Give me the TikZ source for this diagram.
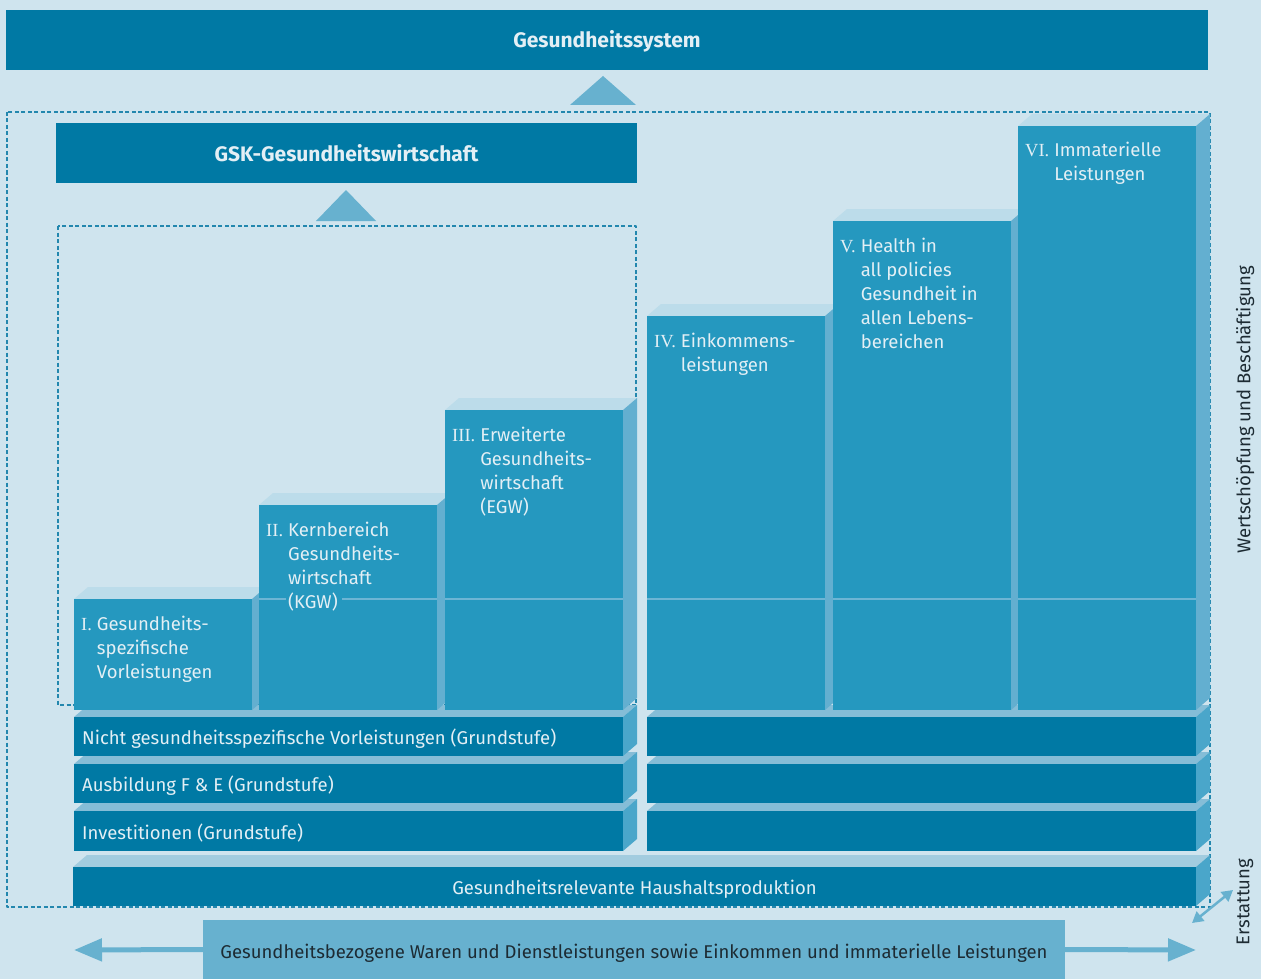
\documentclass[tikz,border=0pt]{standalone}
\usepackage{fontspec}
\setmainfont{Fira Sans}
\newfontfamily\numfont{Liberation Serif}
\usetikzlibrary{arrows.meta,positioning}
\definecolor{bgblue}{HTML}{CFE4EE}
\definecolor{darkblue}{HTML}{0079A4}
\definecolor{colblue}{HTML}{2598BF}
\definecolor{coltop}{HTML}{BCDCEA}
\definecolor{colside}{HTML}{63AFD0}
\definecolor{bartop}{HTML}{85BDD7}
\definecolor{barside}{HTML}{4AA6CA}
\definecolor{hhtop}{HTML}{A2CCDF}
\definecolor{triblue}{HTML}{67B1CF}
\definecolor{lineblue}{HTML}{6DB5D4}
\definecolor{dashblue}{HTML}{2387AE}
\definecolor{lighttext}{HTML}{E3EFF5}
\definecolor{darktext}{HTML}{1D2B33}
% name, x, y, width, height, front, top, side
\newcommand{\slab}[8]{%
  \fill[#7] (#2,#3) -- ++(14,-12) -- ++(#4,0) -- ++(-14,12) -- cycle;
  \fill[#8] (#2+#4,#3) -- ++(14,-12) -- ++(0,#5) -- ++(-14,12) -- cycle;
  \node[front,fill=#6,minimum width=#4,minimum height=#5] (#1) at (#2,#3) {};}
\newcommand{\colnum}[2]{{\numfont #1}\hspace{5pt}\begin{tabular}[t]{@{}l@{}}#2\end{tabular}}
\begin{document}
\begin{tikzpicture}[x=1pt,y=-1pt,line join=round,
    front/.style={anchor=north west,inner sep=0pt,outer sep=0pt},
    dashbox/.style={draw=dashblue,line width=1.4pt,dash pattern=on 4pt off 2.5pt},
    coltext/.style={anchor=north west,inner sep=0pt,text=lighttext,font=\fontsize{18.5}{24}\selectfont},
    bartext/.style={anchor=base west,inner sep=0pt,text=lighttext,font=\fontsize{18.5}{24}\selectfont},
    headtext/.style={anchor=base,text=lighttext,font=\bfseries\fontsize{21}{24}\selectfont},
    sidetext/.style={text=darktext,rotate=90,font=\fontsize{18.5}{24}\selectfont},
    bigarrow/.style={draw=triblue,line width=5pt,-{Triangle[length=28pt,width=22pt]}},
    midline/.style={draw=lineblue,line width=2pt}]
  \fill[bgblue] (0,0) rectangle (1261,979);
  \useasboundingbox (0,0) rectangle (1261,979);
  \node[front,fill=darkblue,minimum width=1202,minimum height=60] (sys) at (6,10) {};
  \node[headtext] at ([yshift=-8]sys.center) {Gesundheitssystem};
  \fill[triblue] (603,76) -- (636,105) -- (570,105) -- cycle;
  \draw[dashbox] (7,112) rectangle (1210,907);
  \node[front,fill=darkblue,minimum width=581,minimum height=60] (gsk) at (56,123) {};
  \node[headtext] at ([yshift=-8]gsk.center) {GSK-Gesundheitswirtschaft};
  \fill[triblue] (346,190) -- (376,221) -- (316,221) -- cycle;
  \draw[dashbox] (58,226) rectangle (636,705);
  \slab{hh}{73}{867}{1123}{39}{darkblue}{hhtop}{barside}
  \foreach \nm/\y/\h in {3/811/40,2/764/39,1/717/39}{
    \slab{b\nm l}{74}{\y}{549}{\h}{darkblue}{bartop}{barside}
    \slab{b\nm r}{647}{\y}{549}{\h}{darkblue}{bartop}{barside}
  }
  \foreach \nm/\x/\y in {1/74/599,2/259/505,3/445/410,4/647/316,5/833/221,6/1018/126}{
    \slab{c\nm}{\x}{\y}{178}{710-\y}{colblue}{coltop}{colside}
  }
  \draw[midline] (c2.west |- c1.north) -- (286,599) (342,599) -- (c2.east |- c1.north);
  \foreach \nm in {3,...,6}
    \draw[midline] (c\nm.west |- c1.north) -- (c\nm.east |- c1.north);
  \node[coltext] at ([shift={(7,14)}]c1.north west) {\colnum{I.}{Gesundheits-\\spezifische\\Vorleistungen}};
  \node[coltext] at ([shift={(7,14)}]c2.north west) {\colnum{II.}{Kernbereich\\Gesundheits-\\wirtschaft\\(KGW)}};
  \node[coltext] at ([shift={(7,14)}]c3.north west) {\colnum{III.}{Erweiterte\\Gesundheits-\\wirtschaft\\(EGW)}};
  \node[coltext] at ([shift={(7,14)}]c4.north west) {\colnum{IV.}{Einkommens-\\leistungen}};
  \node[coltext] at ([shift={(7,14)}]c5.north west) {\colnum{V.}{Health in\\all policies\\Gesundheit in\\allen Lebens-\\bereichen}};
  \node[coltext] at ([shift={(7,14)}]c6.north west) {\colnum{VI.}{Immaterielle\\Leistungen}};
  \node[bartext] at ([shift={(8,8)}]b1l.west) {Nicht gesundheitsspezifische Vorleistungen (Grundstufe)};
  \node[bartext] at ([shift={(8,8)}]b2l.west) {Ausbildung F \& E (Grundstufe)};
  \node[bartext] at ([shift={(8,8)}]b3l.west) {Investitionen (Grundstufe)};
  \node[bartext,anchor=base] at ([yshift=-8]hh.center) {Gesundheitsrelevante Haushaltsproduktion};
  \node[front,fill=triblue,minimum width=862,minimum height=59] (goods) at (203,920) {};
  \node[anchor=base,text=darktext,font=\fontsize{18.5}{24}\selectfont] at ([yshift=-9]goods.center)
    {Gesundheitsbezogene Waren und Dienstleistungen sowie Einkommen und immaterielle Leistungen};
  \coordinate (lend) at (74,950);
  \coordinate (rend) at (1196,950);
  \draw[bigarrow] (goods.west) -- (lend);
  \draw[bigarrow] (goods.east) -- (rend);
  \coordinate (ea) at (1192,923);
  \coordinate (eb) at (1233,890);
  \draw[draw=triblue,line width=2.5pt,{Triangle[length=11pt,width=12pt]}-{Triangle[length=11pt,width=12pt]}] (ea) -- (eb);
  \node[sidetext] (ws) at (1245,410) {Wertschöpfung und Beschäftigung};
  \node[sidetext] (er) at (1245,902) {Erstattung};
\end{tikzpicture}
\end{document}
